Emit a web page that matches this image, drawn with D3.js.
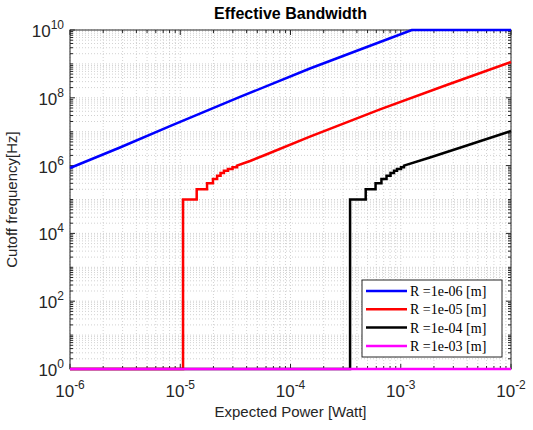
<!DOCTYPE html>
<html>
<head>
<meta charset="utf-8">
<script src="https://cdn.jsdelivr.net/npm/d3@7"></script>
<style>
  body { margin: 0; background: #fff; }
  text { font-family: "Liberation Sans", Arial, sans-serif; fill: #262626; }
</style>
</head>
<body>
<svg width="533" height="430"></svg>
<script>
// values: power [W] -> cutoff frequency [Hz]
const stepLevels = [1e5, 2e5, 3e5, 4e5, 5e5, 6e5, 7e5, 8e5, 9e5, 1e6];

const blueP = [1e-6, 2.84e-6, 8.07e-6, 3.48e-5, 1.5e-4, 6.49e-4, 1.26e-3, 1e-2];
const blueF = [8.5e5, 3.42e6, 1.47e7, 1.06e8, 7.31e8, 4.43e9, 1e10, 1e10];

const redStepP = [1.06e-5, 1.41e-5, 1.75e-5, 1.98e-5, 2.16e-5, 2.32e-5, 2.49e-5, 2.71e-5, 2.98e-5, 3.27e-5];
const redP = [4.3e-5, 5.87e-5, 1.5e-4, 6.49e-4, 2.61e-3, 1e-2];
const redF = [1.37e6, 2.05e6, 7.13e6, 4.58e7, 2.39e8, 1.14e9];

const blackStepP = [3.47e-4, 4.81e-4, 5.91e-4, 6.68e-4, 7.43e-4, 8.08e-4, 8.69e-4, 9.25e-4, 1.005e-3, 1.07e-3];
const blackP = [1.84e-3, 3.67e-3, 1e-2];
const blackF = [1.73e6, 3.6e6, 1.05e7];

const magentaP = [1e-6, 1e-2];
const magentaF = [1, 1];

const xTicks = [1e-6, 1e-5, 1e-4, 1e-3, 1e-2];
const yTicks = [1e0, 1e2, 1e4, 1e6, 1e8, 1e10];

const legendLabels = ["R =1e-06 [m]", "R =1e-05 [m]", "R =1e-04 [m]", "R =1e-03 [m]"];
const colors = ["#0000ff", "#ff0000", "#000000", "#ff00ff"];

// zero bandwidth is shown at the bottom of the log axis (1 Hz)
let zip = (ps, fs) => ps.map((p, i) => [p, fs[i]]);
let stairs = (stepP, ps, fs) => {
  let pts = [[1e-6, 1], [stepP[0], 1]];
  stepP.forEach((p, i) => {
    if (i > 0) pts.push([p, stepLevels[i - 1]]);
    pts.push([p, stepLevels[i]]);
  });
  return pts.concat(zip(ps, fs));
};

const series = [
  zip(blueP, blueF),
  stairs(redStepP, redP, redF),
  stairs(blackStepP, blackP, blackF),
  zip(magentaP, magentaF)
];

const svg = d3.select("svg");
const pl = 70, pr = 511, pt = 30, pb = 369;

const x = d3.scaleLog().domain([1e-6, 1e-2]).range([pl, pr]);
const y = d3.scaleLog().domain([1, 1e10]).range([pb, pt]);

// minor positions 1..9 x 10^n
let minors = (lo, hi) => {
  let out = [];
  for (let e = lo; e < hi; e++) for (let k = 1; k <= 9; k++) out.push(k * Math.pow(10, e));
  out.push(Math.pow(10, hi));
  return out;
};
const xMinor = minors(-6, -2);
const yMinor = minors(0, 10);

const grid = svg.append("g");
grid.selectAll(".xm").data(xMinor).join("line")
    .attr("x1", d => x(d)).attr("x2", d => x(d))
    .attr("y1", pt).attr("y2", pb)
    .attr("stroke", "#d2d2d2").attr("stroke-dasharray", "1,2");
grid.selectAll(".ym").data(yMinor).join("line")
    .attr("y1", d => y(d)).attr("y2", d => y(d))
    .attr("x1", pl).attr("x2", pr)
    .attr("stroke", "#d2d2d2").attr("stroke-dasharray", "1,2");

// ticks on all four sides, pointing inward
const tk = svg.append("g").attr("stroke", "#262626").attr("stroke-width", 1);
xMinor.forEach(d => {
  let len = xTicks.includes(d) ? 5 : 3;
  tk.append("line").attr("x1", x(d)).attr("x2", x(d)).attr("y1", pb).attr("y2", pb - len);
  tk.append("line").attr("x1", x(d)).attr("x2", x(d)).attr("y1", pt).attr("y2", pt + len);
});
yMinor.forEach(d => {
  let len = yTicks.includes(d) ? 5 : 3;
  tk.append("line").attr("y1", y(d)).attr("y2", y(d)).attr("x1", pl).attr("x2", pl + len);
  tk.append("line").attr("y1", y(d)).attr("y2", y(d)).attr("x1", pr).attr("x2", pr - len);
});

svg.append("rect")
    .attr("x", pl).attr("y", pt)
    .attr("width", pr - pl).attr("height", pb - pt)
    .attr("fill", "none").attr("stroke", "#262626").attr("stroke-width", 1);

// lines
const line = d3.line().x(d => x(d[0])).y(d => y(d[1]));
svg.append("g").selectAll("path").data(series).join("path")
    .attr("d", line)
    .attr("fill", "none")
    .attr("stroke", (d, i) => colors[i])
    .attr("stroke-width", 2.5);

// tick labels
const xl = svg.append("g").selectAll("text").data(xTicks).join("text")
    .attr("x", d => x(d)).attr("y", 397)
    .attr("text-anchor", "middle").attr("font-size", 17);
xl.append("tspan").text("10");
xl.append("tspan").attr("dy", -8).attr("font-size", 12).text(d => Math.round(Math.log10(d)));

const yl = svg.append("g").selectAll("text").data(yTicks).join("text")
    .attr("x", 64).attr("y", d => y(d) + 7)
    .attr("text-anchor", "end").attr("font-size", 17);
yl.append("tspan").text("10");
yl.append("tspan").attr("dy", -8).attr("font-size", 12).text(d => Math.round(Math.log10(d)));

svg.append("text")
    .attr("x", (pl + pr) / 2).attr("y", 417)
    .attr("text-anchor", "middle").attr("font-size", 15)
    .text("Expected Power [Watt]");

svg.append("text")
    .attr("transform", `translate(17,${(pt + pb) / 2}) rotate(-90)`)
    .attr("text-anchor", "middle").attr("font-size", 15)
    .text("Cutoff frequency[Hz]");

svg.append("text")
    .attr("x", (pl + pr) / 2).attr("y", 19)
    .attr("text-anchor", "middle").attr("font-size", 16).attr("font-weight", "bold")
    .style("fill", "#000")
    .text("Effective Bandwidth");

// legend
const lg = svg.append("g");
lg.append("rect")
    .attr("x", 362).attr("y", 280).attr("width", 140).attr("height", 77)
    .attr("fill", "#fff").attr("stroke", "#262626").attr("stroke-width", 1);
const items = lg.selectAll("g").data(legendLabels).join("g")
    .attr("transform", (d, i) => `translate(366,${291 + i * 18.3})`);
items.append("line")
    .attr("x1", 0).attr("x2", 41)
    .attr("stroke", (d, i) => colors[i]).attr("stroke-width", 2.5);
items.append("text")
    .attr("x", 44).attr("y", 5)
    .attr("font-size", 14)
    .style("font-family", "'Liberation Serif', 'DejaVu Serif', serif")
    .style("fill", "#000")
    .text(d => d);
</script>
</body>
</html>
